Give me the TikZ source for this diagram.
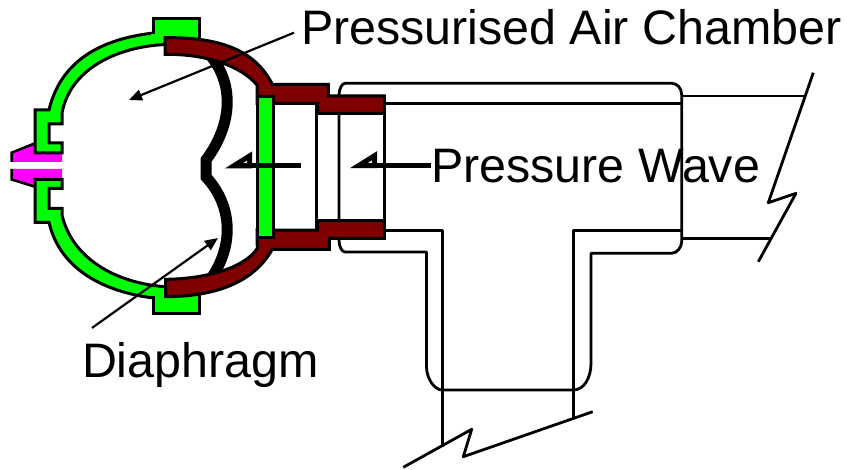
\documentclass[tikz,border=0pt]{standalone}
\usepackage{fontspec}
\setmainfont{Liberation Sans}
\usetikzlibrary{arrows.meta}

\definecolor{shellgreen}{RGB}{0,255,0}
\definecolor{nipplepink}{RGB}{255,0,255}
\definecolor{clampred}{RGB}{127,0,0}

\begin{document}
\begin{tikzpicture}[
    x=1pt, y=-1pt,
    every node/.style={font=\fontsize{48.4}{52}\selectfont, inner sep=0pt, outer sep=0pt, anchor=base west},
    pipe/.style={draw=black, line width=2.8pt, line join=round},
    shell/.style={draw=black, fill=shellgreen, line width=3pt, line join=miter},
    clamp/.style={draw=black, fill=clampred, line width=3pt, line join=miter},
    membrane/.style={draw=black, line width=11pt},
    arrow/.style={-{Triangle[length=13pt,width=11pt]}, line width=2.2pt},
    waveline/.style={line width=5pt},
    wavetip/.style={draw=black, fill=white, line width=5pt, line join=miter}
]
\useasboundingbox (0,0) rectangle (858,470);

% Pipes
\draw[pipe] (345,83.3) -- (671.7,83.3) .. controls (677,83.3) and (681.7,88) .. (681.7,95)
    -- (681.7,241.7) .. controls (681.7,247) and (677,253.3) .. (671.7,253.3)
    -- (591,253.3) -- (591,363) .. controls (591,378) and (584,390) .. (573.3,390)
    -- (442.3,390) .. controls (434,390) and (426.5,378) .. (426.5,366.7)
    -- (426.5,252) -- (345,252) .. controls (342,252) and (339,247) .. (339,240)
    -- (339,95) .. controls (339,89) and (342,83.3) .. (345,83.3) -- cycle;
\draw[pipe] (384,103.3) -- (681.7,103.3);
\draw[pipe] (384,230.7) -- (442.3,230.7) -- (442.3,446.7);
\draw[pipe] (681.7,230.7) -- (573.3,230.7) -- (573.3,418);
\draw[pipe] (442.3,390) -- (573.3,390);
\draw[pipe] (681.7,96) -- (805,96);
\draw[pipe] (681.7,238.3) -- (770,238.3);
\draw[pipe] (813.3,72.7) -- (768.3,202.7) -- (796,193.3) -- (758.3,261.7);
\draw[pipe] (592.7,411.7) -- (463.3,456.7) -- (471.7,429.3) -- (403.3,467.3);
\draw[pipe] (316.7,103.3) -- (316.7,230);
\draw[pipe] (384.3,96) -- (384.3,238);

% Nipple
\fill[nipplepink] (11.7,152.7) -- (35,143.3) -- (35,152.7) -- (62,152.7) -- (62,162) -- (11.7,162) -- cycle;
\fill[nipplepink] (11.7,179.5) -- (35,186.7) -- (35,178.3) -- (62,178.3) -- (62,169) -- (11.7,169) -- cycle;
\draw[black, line width=2.6pt] (11.7,162) -- (11.7,152.7) -- (35,143.3);
\draw[black, line width=2.6pt] (11.7,169) -- (11.7,179.5) -- (35,186.7);

% Shell
\draw[shell] (165,37) -- (153.5,33) .. controls (110,38) and (62,55) .. (49,110)
    -- (35,110) -- (35,153) -- (62,153) -- (62,143) -- (49,143) -- (49,124) -- (62,124) -- (62,113)
    .. controls (70,70) and (115,47) .. (165,44.5) -- cycle;
\draw[shell] (153.5,33) -- (153.5,19) -- (199,19) -- (199,40) -- (153.5,40) -- cycle;
\draw[shell] (165,298) -- (153.5,298) .. controls (105,292) and (60,270) .. (49,222.3)
    -- (35,222.3) -- (35,179.3) -- (62,179.3) -- (62,188.3) -- (49,188.3) -- (49,208.3) -- (62,208.3) -- (62,215)
    .. controls (72,258) and (115,283) .. (165,286.7) -- cycle;
\draw[shell] (153.5,290) -- (199,290) -- (199,313.3) -- (153.5,313.3) -- cycle;
\fill[shellgreen] (151,34.5) rectangle (165,42.5);
\fill[shellgreen] (151,288) rectangle (165,296);

% Diaphragm
\draw[membrane] (210,55) .. controls (235,85) and (232,125) .. (206,160) -- (206,177)
    .. controls (232,205) and (235,245) .. (210,280);

% Clamps
\draw[clamp] (165,37.7) .. controls (220,37) and (255,50) .. (272.3,84.3)
    -- (328.3,84.3) -- (328.3,96) -- (384.3,96) -- (384.3,113.3) -- (317.7,113.3) -- (317.7,103.3)
    -- (273.3,103.3) -- (257,103.3) -- (257,85) .. controls (240,65) and (205,54) .. (165,54.3) -- cycle;
\draw[clamp] (165.7,296.7) .. controls (220,296.5) and (255,280) .. (272.3,249.3)
    -- (329.3,249.3) -- (329.3,238.3) -- (384.3,238.3) -- (384.3,220.7) -- (317.7,220.7) -- (317.7,230)
    -- (273.3,230) -- (257,230) -- (257.3,248.3) .. controls (245,268) and (205,279) .. (165.7,279.3) -- cycle;
\draw[shell] (257,96.5) rectangle (273.3,237.5);
\draw[pipe] (339,113.3) -- (339,220.7);

% Nodes
\node (airLabel) at (301,45) {Pressurised Air Chamber};
\node (waveLabel) at (431,183) {Pressure Wave};
\node (diaphragmLabel) at (82,377) {Diaphragm};
\coordinate (airTip) at (129,100);
\coordinate (diaphragmTip) at (218,238);
\coordinate (waveTipA) at (358.7,165.6);
\coordinate (waveTipB) at (233.5,166);
\coordinate (waveTail) at (301,166);

% Paths
\draw[arrow] ([xshift=-7pt,yshift=-5pt]airLabel.west) -- (airTip);
\draw[arrow] ([xshift=10pt,yshift=14pt]diaphragmLabel.north west) -- (diaphragmTip);
\draw[wavetip] (waveTipA) -- ++(16,-10) -- ++(0,10) -- cycle;
\draw[waveline] (waveLabel.west |- waveTipA) -- (waveTipA);
\draw[wavetip] (waveTipB) -- ++(16,-10) -- ++(0,10) -- cycle;
\draw[waveline] (waveTail) -- (waveTipB);
\end{tikzpicture}
\end{document}
